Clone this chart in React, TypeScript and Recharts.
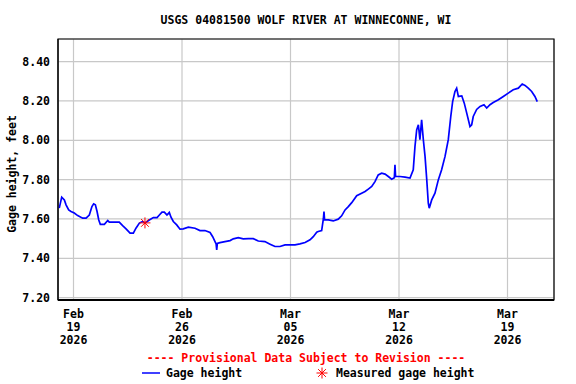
import React from 'react';
import { ComposedChart, Line, XAxis, YAxis, CartesianGrid, ReferenceArea, ReferenceDot } from 'recharts';

// x values are days since Feb 18 2026 00:00
const days = [
  0.08, 0.24, 0.41, 0.52, 0.69, 0.84, 1.05, 1.27, 1.59, 1.81, 2.02, 2.19, 2.3, 2.41, 2.52, 2.63, 2.73, 2.99,
  3.21, 3.31, 3.63, 3.95, 4.17, 4.39, 4.65, 4.86, 5.03, 5.25, 5.46, 5.61, 5.89, 6.15, 6.39, 6.54, 6.71, 6.86,
  7.03, 7.18, 7.29, 7.44, 7.66, 7.87, 8.08, 8.41, 8.84, 9.16, 9.48, 9.81, 9.98, 10.13, 10.2, 10.24, 10.28, 10.45,
  10.77, 11.1, 11.31, 11.63, 11.95, 12.28, 12.6, 12.92, 13.35, 13.68, 14.0, 14.32, 14.65, 14.97, 15.29, 15.61,
  15.94, 16.26, 16.47, 16.69, 16.79, 17.01, 17.12, 17.16, 17.2, 17.44, 17.76, 18.08, 18.3, 18.52, 18.73, 18.95,
  19.27, 19.59, 19.81, 20.02, 20.24, 20.45, 20.66, 20.88, 21.1, 21.31, 21.53, 21.7, 21.74, 21.78, 22.06, 22.39,
  22.71, 22.92, 23.03, 23.14, 23.25, 23.35, 23.46, 23.57, 23.68, 23.79, 23.89, 23.95, 24.11, 24.32, 24.54, 24.75,
  24.97, 25.18, 25.34, 25.46, 25.61, 25.72, 25.83, 26.05, 26.21, 26.37, 26.58, 26.69, 26.79, 27.01, 27.23, 27.48,
  27.66, 27.87, 28.08, 28.41, 28.73, 29.05, 29.37, 29.7, 29.95, 30.13, 30.34, 30.56, 30.77, 30.92,
];
const gage = [
  7.655, 7.711, 7.697, 7.672, 7.646, 7.638, 7.63, 7.617, 7.604, 7.604, 7.62, 7.663, 7.677, 7.672, 7.638, 7.595, 7.573, 7.573,
  7.592, 7.584, 7.584, 7.584, 7.566, 7.55, 7.528, 7.528, 7.553, 7.579, 7.587, 7.58, 7.595, 7.607, 7.607, 7.62, 7.635, 7.635,
  7.62, 7.633, 7.609, 7.587, 7.57, 7.548, 7.55, 7.558, 7.553, 7.541, 7.541, 7.531, 7.51, 7.485, 7.473, 7.443, 7.476, 7.48,
  7.485, 7.49, 7.499, 7.505, 7.499, 7.5, 7.5, 7.488, 7.485, 7.472, 7.46, 7.46, 7.468, 7.468, 7.468, 7.473,
  7.48, 7.494, 7.51, 7.533, 7.536, 7.541, 7.6, 7.638, 7.595, 7.595, 7.59, 7.599, 7.616, 7.646, 7.663, 7.683,
  7.718, 7.731, 7.74, 7.752, 7.765, 7.79, 7.824, 7.833, 7.828, 7.816, 7.802, 7.81, 7.875, 7.816, 7.816, 7.813,
  7.808, 7.85, 7.968, 8.053, 8.079, 8.003, 8.104, 8.003, 7.918, 7.8, 7.68, 7.655, 7.697, 7.731, 7.8, 7.85,
  7.918, 8.003, 8.121, 8.197, 8.248, 8.265, 8.223, 8.226, 8.189, 8.138, 8.07, 8.079, 8.121, 8.157, 8.172, 8.181,
  8.164, 8.181, 8.192, 8.206, 8.223, 8.24, 8.257, 8.265, 8.286, 8.279, 8.265, 8.248, 8.223, 8.197,
];

const measuredDay = 5.61;
const measuredGage = 7.58;

const tickDays = [1, 8, 15, 22, 29];
const tickMonths = ['Feb', 'Feb', 'Mar', 'Mar', 'Mar'];
const tickDates = ['19', '26', '05', '12', '19'];
const tickYears = ['2026', '2026', '2026', '2026', '2026'];
const yTicks = [7.2, 7.4, 7.6, 7.8, 8.0, 8.2, 8.4];

const data = days.map((d, i) => ({ day: d, gage: gage[i] }));

const FONT = '"DejaVu Sans Mono", monospace';
const X_MIN = 0;
const X_MAX = 32;
const Y_MIN = 7.188;
const Y_MAX = 8.515;

const DateTick = (props: any) => {
  const { x, y, payload } = props;
  const i = tickDays.indexOf(payload.value);
  return (
    <text x={x} y={y} textAnchor="middle" fontFamily={FONT} fontSize={11.5} fontWeight="bold" fill="#000">
      <tspan x={x} y={318}>{tickMonths[i]}</tspan>
      <tspan x={x} y={331}>{tickDates[i]}</tspan>
      <tspan x={x} y={344}>{tickYears[i]}</tspan>
    </text>
  );
};

const Asterisk = (props: any) => {
  const { cx, cy } = props;
  const r = 5.5;
  const spokes = [0, 45, 90, 135].map((a) => {
    const rad = (a * Math.PI) / 180;
    return (
      <line key={a} x1={cx - r * Math.cos(rad)} y1={cy - r * Math.sin(rad)} x2={cx + r * Math.cos(rad)} y2={cy + r * Math.sin(rad)} stroke="#ff0000" strokeWidth={1} />
    );
  });
  return <g>{spokes}</g>;
};

const App: React.FC = () => {
  return (
    <div style={{ position: 'absolute', left: 0, top: 0, width: 576, height: 384, background: '#fff' }}>
      <ComposedChart width={576} height={384} data={data} margin={{ top: 39, right: 22, bottom: 34, left: 8 }}>
        <CartesianGrid stroke="#c8c8c8" strokeWidth={1.2} />
        <XAxis
          dataKey="day"
          type="number"
          domain={[X_MIN, X_MAX]}
          ticks={tickDays}
          height={50}
          tickLine={false}
          axisLine={{ stroke: '#000', strokeWidth: 2 }}
          tick={<DateTick />}
          interval={0}
        />
        <YAxis
          type="number"
          domain={[Y_MIN, Y_MAX]}
          ticks={yTicks}
          width={50}
          tickLine={false}
          tickSize={0}
          tickMargin={8}
          axisLine={{ stroke: '#000' }}
          tickFormatter={(v: number) => v.toFixed(2)}
          tick={{ fontFamily: FONT, fontSize: 11.5, fontWeight: 'bold', fill: '#000' }}
          allowDataOverflow
        />
        <ReferenceArea x1={X_MIN} x2={X_MAX} y1={Y_MIN} y2={Y_MAX} fill="none" stroke="#000" strokeWidth={1.2} />
        <Line type="linear" dataKey="gage" stroke="#0000ff" strokeWidth={1.7} dot={false} isAnimationActive={false} />
        <ReferenceDot x={measuredDay} y={measuredGage} shape={<Asterisk />} />
      </ComposedChart>
      <svg width={576} height={384} style={{ position: 'absolute', left: 0, top: 0, pointerEvents: 'none' }}>
        <text x={306} y={24} textAnchor="middle" fontFamily={FONT} fontSize={11.5} fontWeight="bold" fill="#000">
          USGS 04081500 WOLF RIVER AT WINNECONNE, WI
        </text>
        <text x={16} y={174} textAnchor="middle" transform="rotate(-90 16 174)" fontFamily={FONT} fontSize={11.5} fontWeight="bold" fill="#000">
          Gage height, feet
        </text>
        <text x={306} y={362} textAnchor="middle" fontFamily={FONT} fontSize={11.5} fontWeight="bold" fill="#ff0000">
          ---- Provisional Data Subject to Revision ----
        </text>
        <line x1={142} y1={373} x2={160} y2={373} stroke="#0000ff" strokeWidth={1.5} />
        <text x={166} y={377} fontFamily={FONT} fontSize={11.5} fontWeight="bold" fill="#000">Gage height</text>
        <Asterisk cx={322} cy={373} />
        <text x={336} y={377} fontFamily={FONT} fontSize={11.5} fontWeight="bold" fill="#000">Measured gage height</text>
      </svg>
    </div>
  );
};

export default App;
